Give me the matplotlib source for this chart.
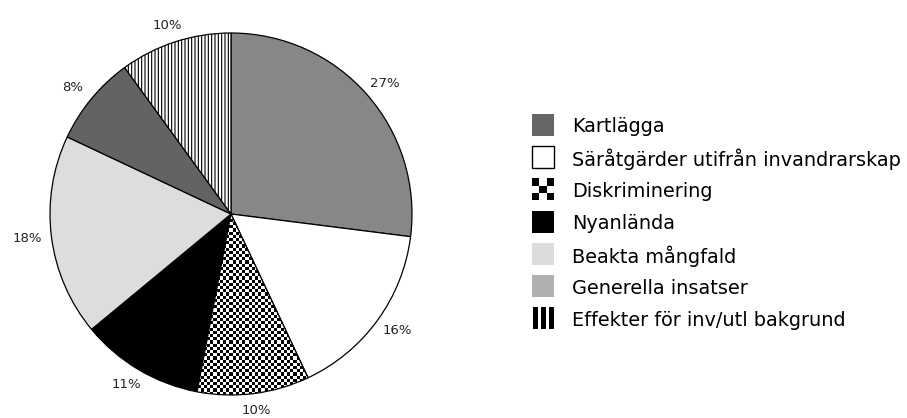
import numpy as np
import matplotlib
matplotlib.use("Agg")
import matplotlib.pyplot as plt
from matplotlib.patches import Rectangle

plt.rcParams['font.family'] = ['DejaVu Sans']
plt.rcParams['hatch.linewidth'] = 0.8

# pie slices, clockwise from 12 o'clock
slice_names = ['Generella insatser', 'Säråtgärder utifrån invandrarskap', 'Diskriminering',
               'Nyanlända', 'Beakta mångfald', 'Kartlägga', 'Effekter för inv/utl bakgrund']
slice_values = [27, 16, 10, 11, 18, 8, 10]
slice_colors = ['#878787', 'white', 'white', 'black', '#dddddd', '#636363', 'white']
slice_hatch = [None, None, None, None, None, None, '|||||']

# legend order
legend_names = ['Kartlägga', 'Säråtgärder utifrån invandrarskap', 'Diskriminering', 'Nyanlända',
                'Beakta mångfald', 'Generella insatser', 'Effekter för inv/utl bakgrund']
legend_colors = ['#666666', 'white', 'checker', 'black', '#dcdcdc', '#b0b0b0', 'stripes']

W, H = 907, 418
fig = plt.figure(figsize=(W / 100, H / 100), dpi=100)

# pie axes: centre (231, 214) px, radius 181 px
cx, cy, R = 231, 214, 181
half = 200
ax = fig.add_axes([(cx - half) / W, (H - cy - half) / H, 2 * half / W, 2 * half / H])
lim = half / R

wedges, _ = ax.pie(slice_values, colors=slice_colors, startangle=90, counterclock=False,
                   wedgeprops=dict(edgecolor='black', linewidth=0.9), radius=1,
                   frame=True)
ax.set_xlim(-lim, lim)
ax.set_ylim(-lim, lim)
ax.set_aspect('equal')
ax.axis('off')
for w, h in zip(wedges, slice_hatch):
    if h:
        w.set_hatch(h)

# checker texture for Diskriminering
cell = 3.2 / R
n = int(2 * lim / cell)
ii, jj = np.indices((n, n))
checker = ((ii + jj) % 2).astype(float)
dw = wedges[slice_names.index('Diskriminering')]
im = ax.imshow(checker, cmap='gray', extent=[-lim, lim, -lim, lim], interpolation='nearest',
               zorder=dw.get_zorder() + 0.01, vmin=0, vmax=1)
im.set_clip_path(dw)
dw.set_facecolor('none')
dw.set_zorder(im.get_zorder() + 0.01)

# percentage labels outside the pie
total = sum(slice_values)
ang = 90.0
for v in slice_values:
    mid = np.deg2rad(ang - v / total * 180)
    ang -= v / total * 360
    c, s = np.cos(mid), np.sin(mid)
    r0 = 1 + 10 / R
    x = r0 * c + 14 / R * c
    y = r0 * s + 7 / R * s
    ax.text(x, y, f'{v}%', ha='center', va='center', fontsize=9.5, color='#222222')

# legend, drawn in pixel coordinates
lax = fig.add_axes([0, 0, 1, 1])
lax.set_xlim(0, W)
lax.set_ylim(H, 0)
lax.axis('off')
x0, y0, step, sz = 532, 125, 32.2, 22
for i, (name, col) in enumerate(zip(legend_names, legend_colors)):
    yc = y0 + i * step
    top = yc - sz / 2
    if col == 'checker':
        cs = sz / 3
        lax.add_patch(Rectangle((x0, top), sz, sz, facecolor='white', edgecolor='none'))
        for a in range(3):
            for b in range(3):
                if (a + b) % 2 == 0:
                    lax.add_patch(Rectangle((x0 + a * cs, top + b * cs), cs, cs,
                                            facecolor='black', edgecolor='none'))
    elif col == 'stripes':
        for k in range(3):
            lax.add_patch(Rectangle((x0 + 1 + k * 8, top), 5, sz, facecolor='black',
                                    edgecolor='none'))
    else:
        ec = 'black' if col == 'white' else 'none'
        lax.add_patch(Rectangle((x0, top), sz, sz, facecolor=col, edgecolor=ec, linewidth=1))
    lax.text(x0 + 40, yc + 2, name, ha='left', va='center', fontsize=13.9, color='black')

fig.savefig('out.png', dpi=100)
